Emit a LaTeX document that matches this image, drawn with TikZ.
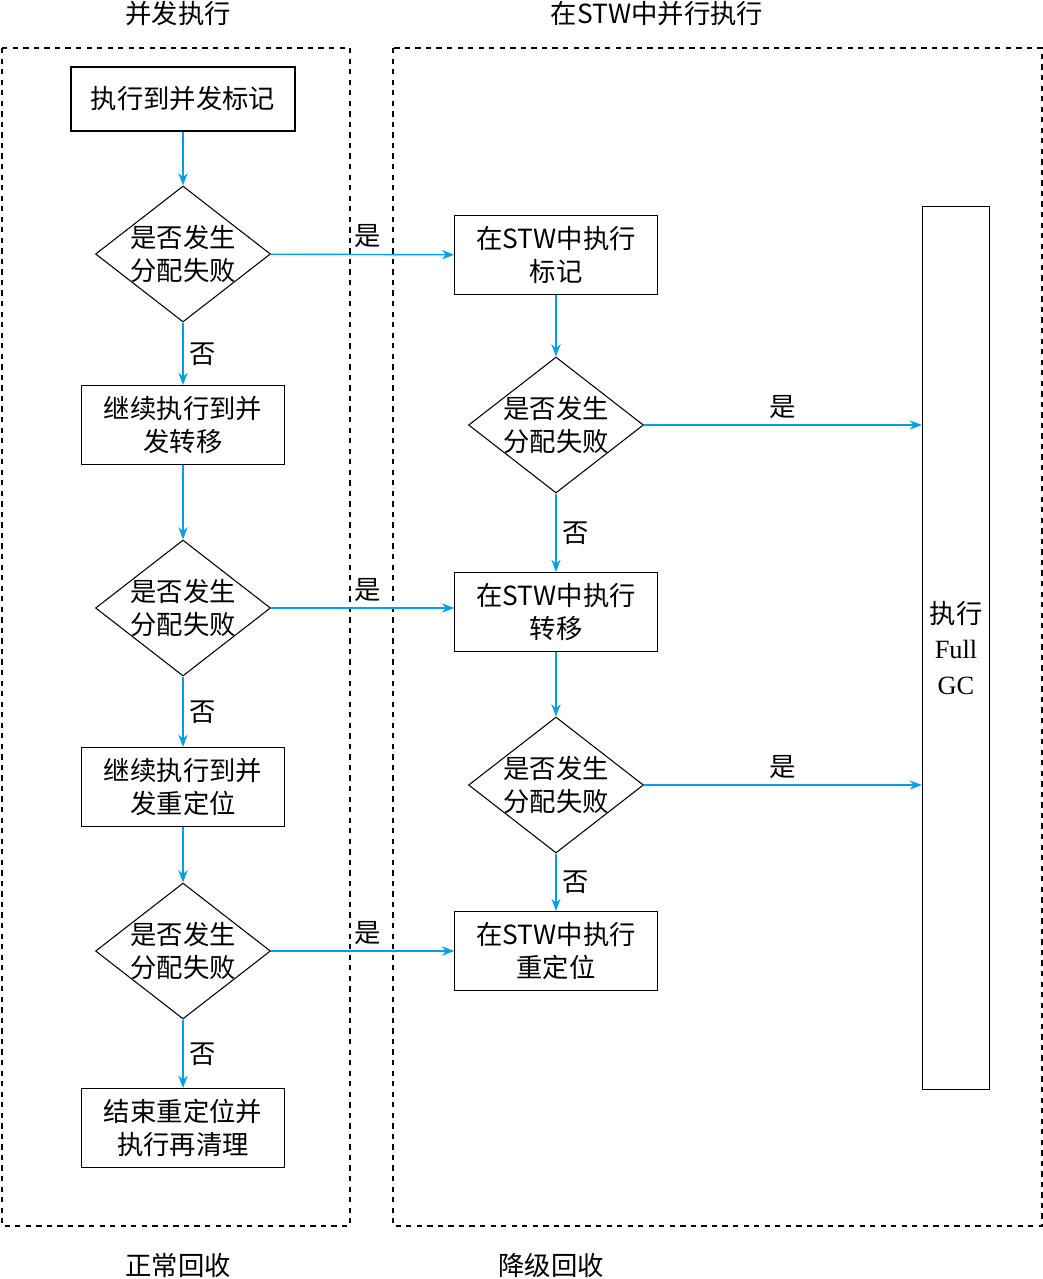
\documentclass[tikz,border=0pt]{standalone}
\usepackage{fontspec}
\setmainfont{Liberation Serif}
\newfontfamily\cjk{Noto Sans CJK SC}
\usetikzlibrary{shapes.geometric,arrows.meta,positioning}
\definecolor{flowblue}{RGB}{0,160,230}
\tikzset{
    stepnode/.style = {
        draw=black,
        semithick,
        rectangle,
        align=center,
        inner sep=0pt,
        font=\cjk\fontsize{15}{19}\selectfont,
        minimum width=4.05cm,
        minimum height=1.58cm
    },
    asknode/.style = {
        draw=black,
        semithick,
        diamond,
        align=center,
        inner sep=-9pt,
        font=\cjk\fontsize{15}{19}\selectfont,
        minimum width=3.5cm,
        minimum height=2.72cm
    },
    flow/.style = {
        draw=flowblue,
        thick,
        -{Stealth[length=7pt]}
    },
    tag/.style = {
        font=\cjk\fontsize{15}{19}\selectfont
    },
    zone/.style = {
        draw=black,
        dashed,
        thick
    }
}
\begin{document}
\begin{tikzpicture}[x=0.02cm,y=-0.02cm]
    \useasboundingbox (0,0) rectangle (1043,1279);
    % dashed zones
    \draw [zone] (2,48) rectangle (350,1226);
    \draw [zone] (393,48) rectangle (1042,1226);
    \node [tag] at (178,14) {并发执行};
    \node [tag] at (657,14) {在STW中并行执行};
    \node [tag] at (178,1265) {正常回收};
    \node [tag] at (551,1265) {降级回收};
    % left column
    \node [stepnode, minimum width=4.48cm, minimum height=1.28cm] (mark) at (183,99) {执行到并发标记};
    \node [asknode] (askA) at (183,254) {是否发生\\分配失败};
    \node [stepnode] (move) at (183,425) {继续执行到并\\发转移};
    \node [asknode] (askB) at (183,608) {是否发生\\分配失败};
    \node [stepnode] (reloc) at (183,787) {继续执行到并\\发重定位};
    \node [asknode] (askC) at (183,951) {是否发生\\分配失败};
    \node [stepnode] (clean) at (183,1128) {结束重定位并\\执行再清理};
    % right column
    \node [stepnode] (stwmark) at (556,255) {在STW中执行\\标记};
    \node [asknode] (askD) at (556,425) {是否发生\\分配失败};
    \node [stepnode] (stwmove) at (556,612) {在STW中执行\\转移};
    \node [asknode] (askE) at (556,785) {是否发生\\分配失败};
    \node [stepnode] (stwreloc) at (556,951) {在STW中执行\\重定位};
    \node [draw=black, semithick, minimum width=1.34cm, minimum height=17.68cm, inner sep=0pt,
           align=center, font=\fontsize{15}{20}\selectfont] (fullgc) at (956,648) {{\cjk 执行}\\Full\\GC};
    % left flow
    \draw [flow] (mark) -- (askA);
    \draw [flow] (askA) -- node [tag, right] {否} (move);
    \draw [flow] (move) -- (askB);
    \draw [flow] (askB) -- node [tag, right] {否} (reloc);
    \draw [flow] (reloc) -- (askC);
    \draw [flow] (askC) -- node [tag, right] {否} (clean);
    % degrade flow
    \draw [flow] (askA) -- node [tag, above, pos=0.53] {是} (stwmark);
    \draw [flow] (askB) -- node [tag, above, pos=0.53] {是} (stwmove.west |- askB);
    \draw [flow] (askC) -- node [tag, above, pos=0.53] {是} (stwreloc);
    \draw [flow] (stwmark) -- (askD);
    \draw [flow] (askD) -- node [tag, right] {否} (stwmove);
    \draw [flow] (stwmove) -- (askE);
    \draw [flow] (askE) -- node [tag, right] {否} (stwreloc);
    \draw [flow] (askD) -- node [tag, above] {是} (fullgc.west |- askD);
    \draw [flow] (askE) -- node [tag, above] {是} (fullgc.west |- askE);
\end{tikzpicture}
\end{document}
